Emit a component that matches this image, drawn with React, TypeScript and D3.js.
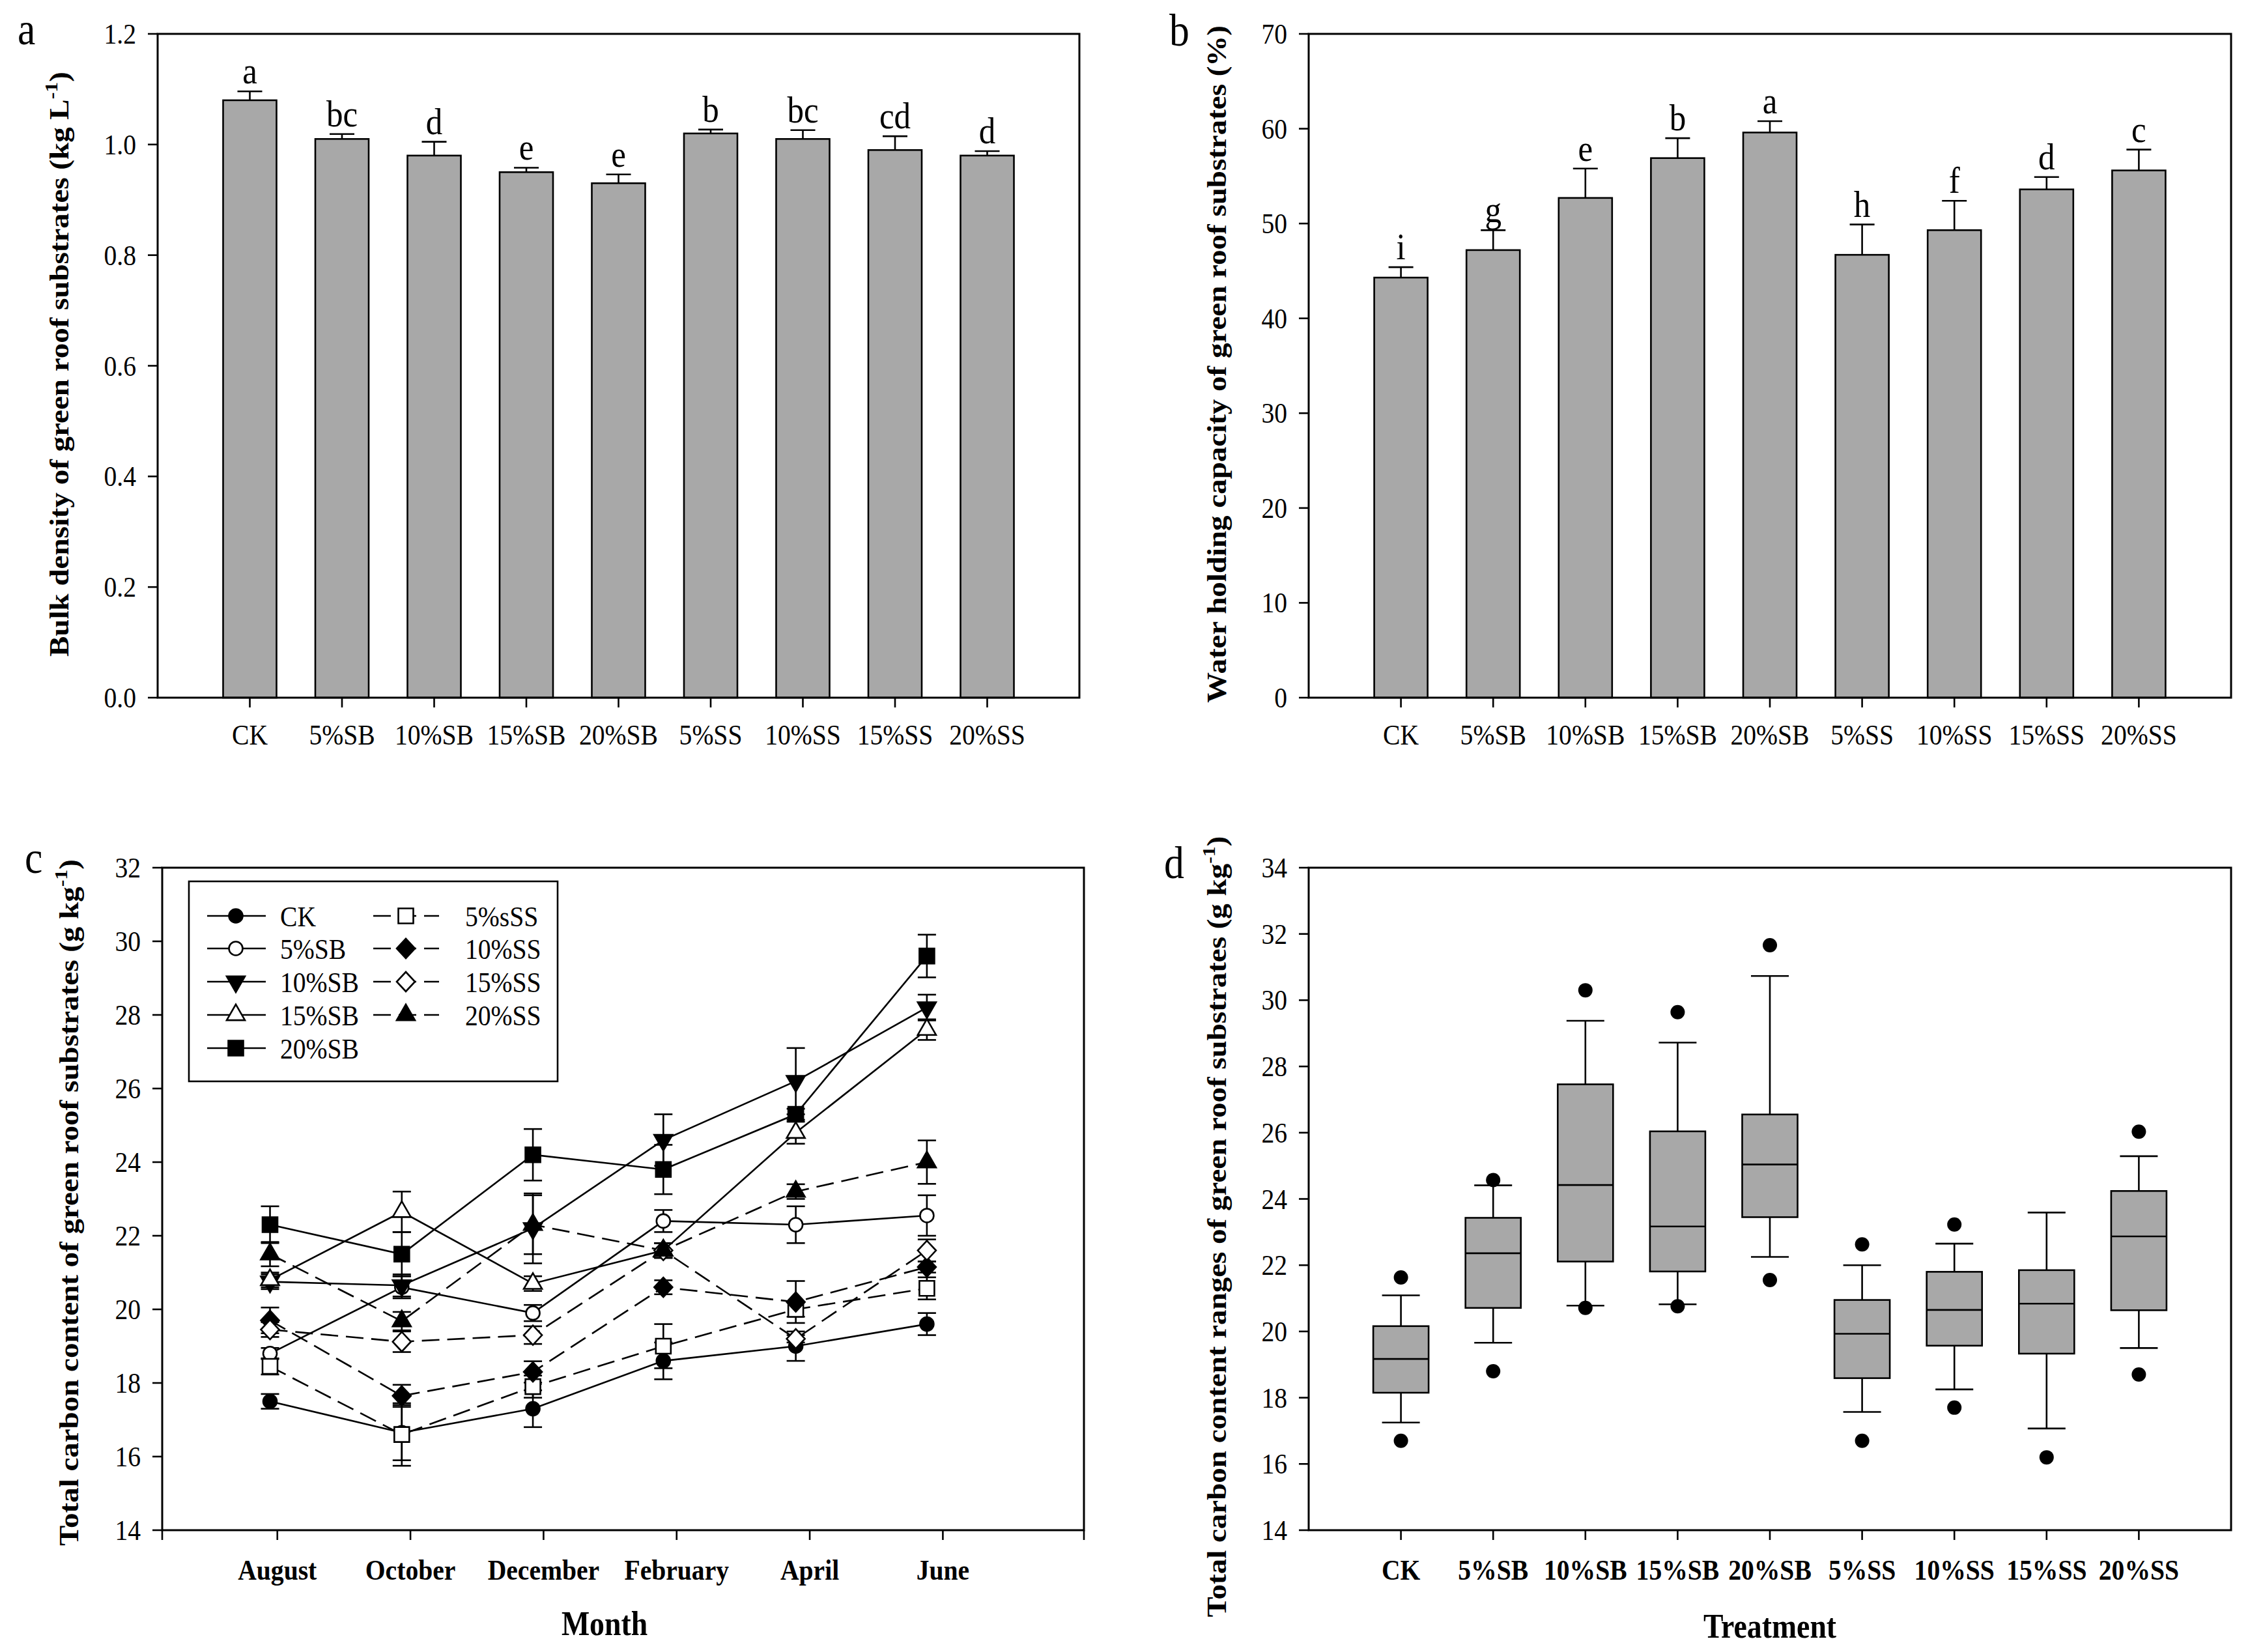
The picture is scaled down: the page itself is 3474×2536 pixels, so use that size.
import React from "react";
import * as d3 from "d3";

// ---------------- DATA ----------------
const categories = ["CK", "5%SB", "10%SB", "15%SB", "20%SB", "5%SS", "10%SS", "15%SS", "20%SS"];

const bulkDensity = [1.08, 1.01, 0.98, 0.95, 0.93, 1.02, 1.01, 0.99, 0.98];
const bulkDensityErr = [0.016, 0.009, 0.025, 0.008, 0.016, 0.007, 0.016, 0.025, 0.008];
const bulkDensityLetters = ["a", "bc", "d", "e", "e", "b", "bc", "cd", "d"];
const bulkTicks = [0, 0.2, 0.4, 0.6, 0.8, 1.0, 1.2];

const waterHolding = [44.3, 47.2, 52.7, 56.9, 59.6, 46.7, 49.3, 53.6, 55.6];
const waterHoldingErr = [1.1, 2.1, 3.1, 2.1, 1.2, 3.2, 3.1, 1.3, 2.2];
const waterHoldingLetters = ["i", "g", "e", "b", "a", "h", "f", "d", "c"];
const waterTicks = [0, 10, 20, 30, 40, 50, 60, 70];

const months = ["August", "October", "December", "February", "April", "June"];
const monthTicks = [8, 10, 12, 14, 16, 18];
const sampleTimes = [7.89, 9.87, 11.84, 13.8, 15.79, 17.76];
const carbonTicks = [14, 16, 18, 20, 22, 24, 26, 28, 30, 32];

const tcCK = [17.5, 16.65, 17.3, 18.6, 19.0, 19.6];
const tcCKErr = [0.2, 0.75, 0.5, 0.5, 0.4, 0.3];
const tc5SB = [18.8, 20.6, 19.9, 22.4, 22.3, 22.55];
const tc5SBErr = [0.15, 0.3, 0.22, 0.3, 0.5, 0.55];
const tc10SB = [20.75, 20.65, 22.2, 24.6, 26.2, 28.2];
const tc10SBErr = [0.2, 0.3, 0.95, 0.7, 0.9, 0.35];
const tc15SB = [20.8, 22.65, 20.7, 21.6, 24.8, 27.6];
const tc15SBErr = [0.2, 0.55, 0.2, 0.2, 0.3, 0.28];
const tc20SB = [22.3, 21.5, 24.2, 23.8, 25.3, 29.6];
const tc20SBErr = [0.5, 0.6, 0.7, 0.67, 0.15, 0.58];
const tc5SS = [18.45, 16.6, 17.9, 19.0, 20.0, 20.57];
const tc5SSErr = [0.22, 0.85, 0.3, 0.6, 0.2, 0.3];
const tc10SS = [19.7, 17.65, 18.3, 20.6, 20.2, 21.15];
const tc10SSErr = [0.35, 0.3, 0.29, 0.19, 0.57, 0.15];
const tc15SS = [19.45, 19.12, 19.3, 21.6, 19.2, 21.6];
const tc15SSErr = [0.2, 0.28, 0.24, 0.2, 0.1, 0.3];
const tc20SS = [21.5, 19.68, 22.3, 21.6, 23.2, 24.0];
const tc20SSErr = [0.33, 0.25, 0.8, 0.2, 0.2, 0.59];

const legendNames = ["CK", "5%SB", "10%SB", "15%SB", "20%SB", "5%sSS", "10%SS", "15%SS", "20%SS"];

const boxWhiskerHigh = [21.09, 24.41, 29.38, 28.72, 30.73, 22.0, 22.65, 23.59, 25.29];
const boxQ3 = [20.16, 23.43, 27.46, 26.04, 26.55, 20.95, 21.8, 21.85, 24.24];
const boxMedian = [19.17, 22.36, 24.42, 23.17, 25.04, 19.93, 20.65, 20.84, 22.87];
const boxQ1 = [18.15, 20.71, 22.11, 21.81, 23.45, 18.59, 19.57, 19.33, 20.64];
const boxWhiskerLow = [17.25, 19.66, 20.78, 20.82, 22.25, 17.57, 18.25, 17.07, 19.5];
const boxOutlierHigh: (number | null)[] = [21.63, 24.57, 30.3, 29.64, 31.66, 22.63, 23.23, null, 26.03];
const boxOutlierLow = [16.7, 18.8, 20.71, 20.76, 21.55, 16.7, 17.7, 16.2, 18.7];
const rangeTicks = [14, 16, 18, 20, 22, 24, 26, 28, 30, 32, 34];

// ---------------- STYLE ----------------
const FONT = "'Liberation Serif', 'Times New Roman', serif";
const SX = 0.88;
const BAR_FILL = "#a8a8a8";
const SW = 2.6;

const series = [
  { vals: tcCK, errs: tcCKErr, shape: "circle", filled: true, dashed: false },
  { vals: tc5SB, errs: tc5SBErr, shape: "circle", filled: false, dashed: false },
  { vals: tc10SB, errs: tc10SBErr, shape: "triDown", filled: true, dashed: false },
  { vals: tc15SB, errs: tc15SBErr, shape: "triUp", filled: false, dashed: false },
  { vals: tc20SB, errs: tc20SBErr, shape: "square", filled: true, dashed: false },
  { vals: tc5SS, errs: tc5SSErr, shape: "square", filled: false, dashed: true },
  { vals: tc10SS, errs: tc10SSErr, shape: "diamond", filled: true, dashed: true },
  { vals: tc15SS, errs: tc15SSErr, shape: "diamond", filled: false, dashed: true },
  { vals: tc20SS, errs: tc20SSErr, shape: "triUp", filled: true, dashed: true },
];

function symbolPath(shape: string): string {
  if (shape === "circle") return d3.symbol(d3.symbolCircle, Math.PI * 10.5 * 10.5)() as string;
  if (shape === "square") return d3.symbol(d3.symbolSquare, 23 * 23)() as string;
  if (shape === "triUp" || shape === "triDown")
    return d3.symbol(d3.symbolTriangle, (Math.sqrt(3) / 4) * 28 * 28)() as string;
  return "M0,-15L14,0L0,15L-14,0Z";
}

function Marker({ x, y, shape, filled }: any) {
  const rot = shape === "triDown" ? " rotate(180)" : "";
  return (
    <path
      d={symbolPath(shape)}
      transform={`translate(${x},${y})${rot}`}
      fill={filled ? "#000" : "#fff"}
      stroke="#000"
      strokeWidth={SW}
    />
  );
}

function T({ x, y, size, anchor = "middle", bold = false, children }: any) {
  return (
    <text
      transform={`translate(${x},${y}) scale(${SX},1)`}
      fontSize={size}
      textAnchor={anchor}
      fontWeight={bold ? "bold" : "normal"}
      fontFamily={FONT}
      fill="#000"
    >
      {children}
    </text>
  );
}

function VT({ x, y, size, main, sup, tail }: any) {
  return (
    <text
      transform={`translate(${x},${y}) rotate(-90) scale(1,${SX})`}
      fontSize={size}
      textAnchor="middle"
      fontWeight="bold"
      fontFamily={FONT}
      fill="#000"
    >
      {main}
      {sup ? (
        <tspan dy={-19} fontSize={size * 0.68}>
          {sup}
        </tspan>
      ) : null}
      {tail ? <tspan dy={sup ? 19 : 0}>{tail}</tspan> : null}
    </text>
  );
}

function Frame({ x0, x1, y0, y1 }: any) {
  return <rect x={x0} y={y0} width={x1 - x0} height={y1 - y0} fill="none" stroke="#000" strokeWidth={3} />;
}

function YAxis({ scale, ticks, x0, fmt }: any) {
  return (
    <g>
      {ticks.map((t: number) => (
        <g key={t}>
          <line x1={x0 - 15} x2={x0} y1={scale(t)} y2={scale(t)} stroke="#000" strokeWidth={SW} />
          <T x={x0 - 33} y={scale(t) + 15} size={45} anchor="end">
            {fmt(t)}
          </T>
        </g>
      ))}
    </g>
  );
}

function BarPanel({ x0, x1, y0, y1, ymax, ticks, fmt, values, errs, letters }: any) {
  const x = d3.scaleLinear().domain([0, 10]).range([x0, x1]);
  const y = d3.scaleLinear().domain([0, ymax]).range([y1, y0]);
  const bw = 82;
  const cap = 38;
  return (
    <g>
      {values.map((v: number, i: number) => {
        const cx = x(i + 1);
        const top = y(v + errs[i]);
        return (
          <g key={i}>
            <line x1={cx} x2={cx} y1={y(v)} y2={top} stroke="#000" strokeWidth={SW} />
            <line x1={cx - cap / 2} x2={cx + cap / 2} y1={top} y2={top} stroke="#000" strokeWidth={SW} />
            <rect x={cx - bw / 2} y={y(v)} width={bw} height={y(0) - y(v)} fill={BAR_FILL} stroke="#000" strokeWidth={SW} />
            <T x={cx} y={top - 12} size={58}>
              {letters[i]}
            </T>
            <line x1={cx} x2={cx} y1={y1} y2={y1 + 15} stroke="#000" strokeWidth={SW} />
            <T x={cx} y={y1 + 72} size={45}>
              {categories[i]}
            </T>
          </g>
        );
      })}
      <Frame x0={x0} x1={x1} y0={y0} y1={y1} />
      <YAxis scale={y} ticks={ticks} x0={x0} fmt={fmt} />
    </g>
  );
}

function LinePanel() {
  const x0 = 249, x1 = 1664, y0 = 1332, y1 = 2349;
  const x = d3.scaleLinear().domain([6.27, 20.12]).range([x0, x1]);
  const y = d3.scaleLinear().domain([14, 32]).range([y1, y0]);
  const line = d3
    .line<number>()
    .x((_, i) => x(sampleTimes[i]))
    .y((d) => y(d));
  const cap = 28;
  const rows = [1406, 1456, 1507, 1558, 1609];
  return (
    <g>
      {series.map((s, k) => (
        <path key={"l" + k} d={line(s.vals) as string} fill="none" stroke="#000" strokeWidth={SW}
          strokeDasharray={s.dashed ? "27,12" : undefined} />
      ))}
      {series.map((s, k) =>
        s.vals.map((v, i) => {
          const cx = x(sampleTimes[i]);
          const a = y(v + s.errs[i]);
          const b = y(v - s.errs[i]);
          return (
            <g key={"e" + k + "-" + i}>
              <line x1={cx} x2={cx} y1={a} y2={b} stroke="#000" strokeWidth={SW} />
              <line x1={cx - cap / 2} x2={cx + cap / 2} y1={a} y2={a} stroke="#000" strokeWidth={SW} />
              <line x1={cx - cap / 2} x2={cx + cap / 2} y1={b} y2={b} stroke="#000" strokeWidth={SW} />
            </g>
          );
        })
      )}
      {series.map((s, k) =>
        s.vals.map((v, i) => (
          <Marker key={"m" + k + "-" + i} x={x(sampleTimes[i])} y={y(v)} shape={s.shape} filled={s.filled} />
        ))
      )}
      <Frame x0={x0} x1={x1} y0={y0} y1={y1} />
      <YAxis scale={y} ticks={carbonTicks} x0={x0} fmt={(t: number) => String(t)} />
      {[x.domain()[0], ...monthTicks, x.domain()[1]].map((m, i) => (
        <line key={"t" + i} x1={x(m)} x2={x(m)} y1={y1} y2={y1 + 15} stroke="#000" strokeWidth={SW} />
      ))}
      {monthTicks.map((m, i) => (
        <T key={"ml" + i} x={x(m)} y={2425} size={45} bold>
          {months[i]}
        </T>
      ))}
      <T x={928} y={2510} size={52} bold>
        Month
      </T>
      {/* legend */}
      <rect x={290} y={1353} width={566} height={307} fill="#fff" stroke="#000" strokeWidth={SW} />
      {series.map((s, k) => {
        const col = k < 5 ? 0 : 1;
        const ry = rows[col === 0 ? k : k - 5];
        const lx0 = col === 0 ? 318 : 573;
        const lx1 = col === 0 ? 408 : 674;
        const mx = col === 0 ? 362 : 623;
        const tx = col === 0 ? 430 : 714;
        return (
          <g key={"lg" + k}>
            <line x1={lx0} x2={lx1} y1={ry} y2={ry} stroke="#000" strokeWidth={SW}
              strokeDasharray={s.dashed ? "27,12" : undefined} />
            <Marker x={mx} y={ry} shape={s.shape} filled={s.filled} />
            <T x={tx} y={ry + 16} size={45} anchor="start">
              {legendNames[k]}
            </T>
          </g>
        );
      })}
    </g>
  );
}

function BoxPanel() {
  const x0 = 2009, x1 = 3425, y0 = 1332, y1 = 2349;
  const x = d3.scaleLinear().domain([0, 10]).range([x0, x1]);
  const y = d3.scaleLinear().domain([14, 34]).range([y1, y0]);
  const bw = 85;
  const cap = 58;
  return (
    <g>
      {categories.map((c, i) => {
        const cx = x(i + 1);
        const hi = boxOutlierHigh[i];
        return (
          <g key={c}>
            <line x1={cx} x2={cx} y1={y(boxQ3[i])} y2={y(boxWhiskerHigh[i])} stroke="#000" strokeWidth={SW} />
            <line x1={cx} x2={cx} y1={y(boxQ1[i])} y2={y(boxWhiskerLow[i])} stroke="#000" strokeWidth={SW} />
            <line x1={cx - cap / 2} x2={cx + cap / 2} y1={y(boxWhiskerHigh[i])} y2={y(boxWhiskerHigh[i])} stroke="#000" strokeWidth={SW} />
            <line x1={cx - cap / 2} x2={cx + cap / 2} y1={y(boxWhiskerLow[i])} y2={y(boxWhiskerLow[i])} stroke="#000" strokeWidth={SW} />
            <rect x={cx - bw / 2} y={y(boxQ3[i])} width={bw} height={y(boxQ1[i]) - y(boxQ3[i])} fill={BAR_FILL} stroke="#000" strokeWidth={SW} />
            <line x1={cx - bw / 2} x2={cx + bw / 2} y1={y(boxMedian[i])} y2={y(boxMedian[i])} stroke="#000" strokeWidth={SW} />
            {hi !== null ? <circle cx={cx} cy={y(hi)} r={11} fill="#000" /> : null}
            <circle cx={cx} cy={y(boxOutlierLow[i])} r={11} fill="#000" />
            <line x1={cx} x2={cx} y1={y1} y2={y1 + 15} stroke="#000" strokeWidth={SW} />
            <T x={cx} y={2425} size={45} bold>
              {c}
            </T>
          </g>
        );
      })}
      <Frame x0={x0} x1={x1} y0={y0} y1={y1} />
      <YAxis scale={y} ticks={rangeTicks} x0={x0} fmt={(t: number) => String(t)} />
      <T x={2717} y={2514} size={52} bold>
        Treatment
      </T>
    </g>
  );
}

export default function App() {
  return (
    <svg
      width={3474}
      height={2536}
      viewBox="0 0 3474 2536"
      style={{ position: "absolute", left: 0, top: 0, background: "#fff" }}
    >
      <rect x={0} y={0} width={3474} height={2536} fill="#fff" />
      {/* panel a */}
      <BarPanel x0={242} x1={1657} y0={52} y1={1071} ymax={1.2} ticks={bulkTicks}
        fmt={d3.format(".1f")} values={bulkDensity} errs={bulkDensityErr} letters={bulkDensityLetters} />
      <VT x={105} y={559} size={47} main="Bulk density of green roof substrates (kg L" sup="-1" tail=")" />
      <T x={27} y={68} size={70} anchor="start">a</T>

      {/* panel b */}
      <BarPanel x0={2009} x1={3425} y0={52} y1={1071} ymax={70} ticks={waterTicks}
        fmt={(t: number) => String(t)} values={waterHolding} errs={waterHoldingErr} letters={waterHoldingLetters} />
      <VT x={1882} y={559} size={47} main="Water holding capacity of green roof substrates (%)" />
      <T x={1795} y={70} size={70} anchor="start">b</T>

      {/* panel c */}
      <LinePanel />
      <VT x={120} y={1846} size={47} main="Total carbon content of green roof substrates (g kg" sup="-1" tail=")" />
      <T x={38} y={1340} size={70} anchor="start">c</T>

      {/* panel d */}
      <BoxPanel />
      <VT x={1882} y={1883} size={47} main="Total carbon content ranges of green roof substrates (g kg" sup="-1" tail=")" />
      <T x={1787} y={1348} size={70} anchor="start">d</T>
    </svg>
  );
}
